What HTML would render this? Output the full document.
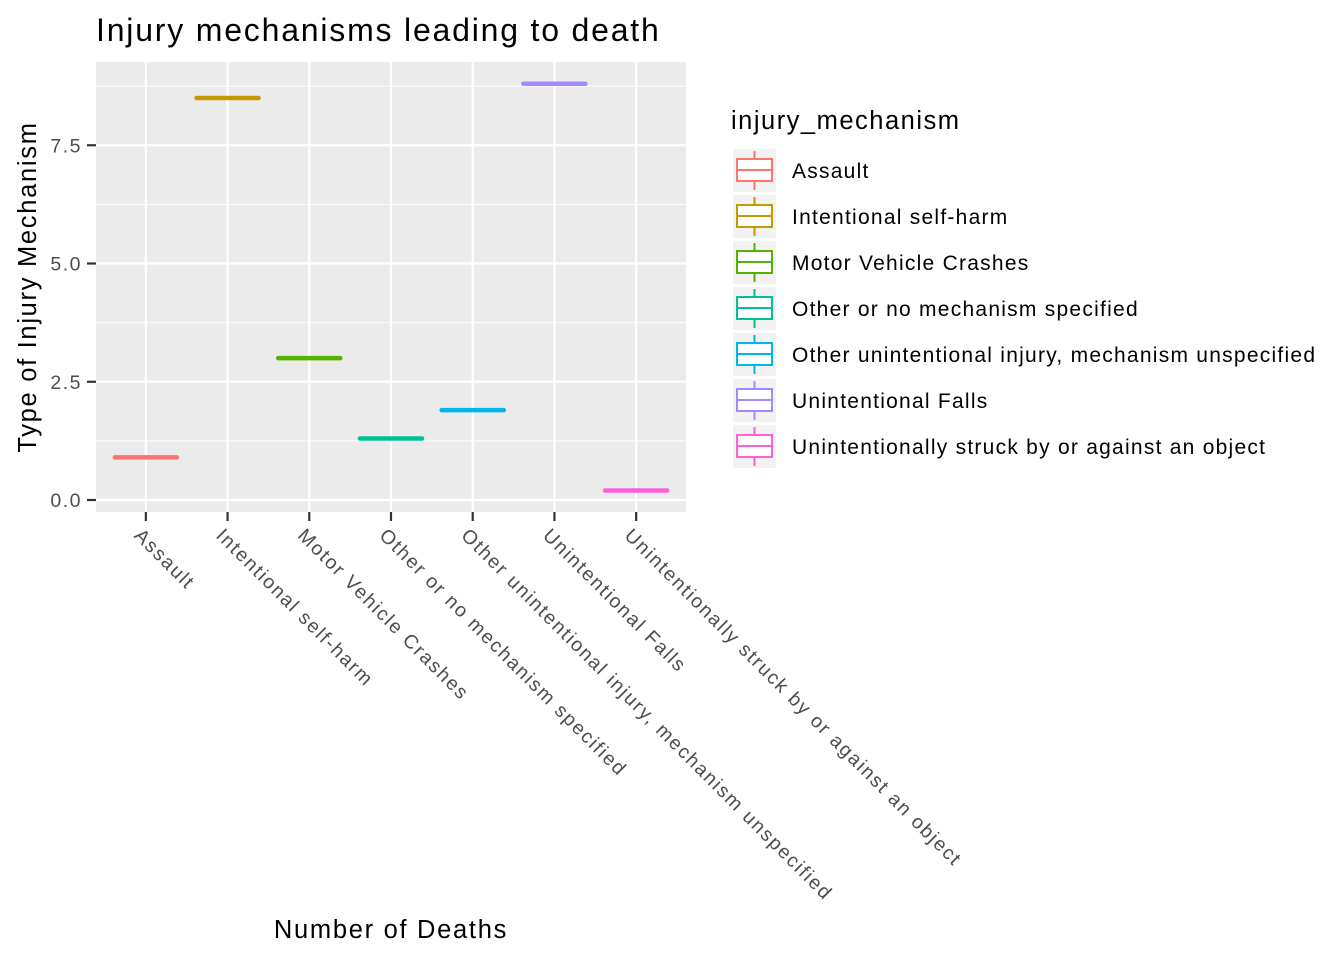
<!DOCTYPE html>
<html><head><meta charset="utf-8"><style>
html,body{margin:0;padding:0;background:#fff;}
svg{display:block;font-family:"Liberation Sans",Arial,sans-serif;}
</style></head><body>
<svg id="chart" width="1344" height="960" xmlns="http://www.w3.org/2000/svg">
<text x="96" y="41" font-size="32" letter-spacing="1.8" fill="#000">Injury mechanisms leading to death</text>
<rect x="96" y="62" width="590" height="450" fill="#ebebeb"/>
<g id="grid"></g>
<g id="marks"></g>
<g id="axes"></g>
<text x="391" y="938" font-size="25.5" letter-spacing="1.7" text-anchor="middle" fill="#000">Number of Deaths</text>
<text transform="translate(36,287) rotate(-90)" font-size="25.5" letter-spacing="1.7" text-anchor="middle" fill="#000">Type of Injury Mechanism</text>
<text x="731" y="129" font-size="25.5" letter-spacing="1.5" fill="#000">injury_mechanism</text>
<g id="legend"></g>
</svg>
<script>
const categories = ["Assault","Intentional self-harm","Motor Vehicle Crashes","Other or no mechanism specified","Other unintentional injury, mechanism unspecified","Unintentional Falls","Unintentionally struck by or against an object"];
const values = [0.9, 8.5, 3.0, 1.3, 1.9, 8.8, 0.2];
const colors = ["#F8766D","#C49A00","#53B400","#00C094","#00B6EB","#A58AFF","#FB61D7"];
const yTicks = [0, 2.5, 5, 7.5];
const yTickLabels = ["0.0","2.5","5.0","7.5"];
const yMinor = [1.25, 3.75, 6.25, 8.75];

const NS = "http://www.w3.org/2000/svg";
const px0 = 96, px1 = 686, py0 = 62, py1 = 512;
function y(v){ return 500 - v * 47.3; }
function x(i){ return px0 + (px1 - px0) * (i + 0.5 + 0.11) / (categories.length + 0.22) ; }
function mk(tag, attrs, parent){
  const e = document.createElementNS(NS, tag);
  for (const k in attrs) e.setAttribute(k, attrs[k]);
  document.getElementById(parent).appendChild(e);
  return e;
}
yMinor.forEach(v=>{
  const l = mk('line',{x1:px0,x2:px1,y1:y(v),y2:y(v),stroke:'#fff','stroke-width':1.1},'grid');
  
  
});
yTicks.forEach((v,i)=>{
  const l = mk('line',{x1:px0,x2:px1,y1:y(v),y2:y(v),stroke:'#fff','stroke-width':2.2},'grid');
  
  
  const t = mk('line',{x1:87,x2:96,y1:y(v),y2:y(v),stroke:'#333','stroke-width':2.2},'axes');
  
  
  const tx = mk('text',{x:82,y:y(v)+7,'font-size':19.5,'letter-spacing':1.5,'text-anchor':'end',fill:'#4d4d4d'},'axes');
  tx.textContent = yTickLabels[i];
  
  
});
categories.forEach((c,i)=>{
  const cx = x(i);
  const g = mk('line',{x1:cx,x2:cx,y1:py0,y2:py1,stroke:'#fff','stroke-width':2.2},'grid');
  
  
  const t = mk('line',{x1:cx,x2:cx,y1:py1,y2:py1+9,stroke:'#333','stroke-width':2.2},'axes');
  
  
  const tx = mk('text',{transform:`translate(${cx-3},${527}) rotate(45)`,'font-size':19.5,'letter-spacing':1.75,fill:'#4d4d4d','dominant-baseline':'hanging'},'axes');
  tx.textContent = c;
  
  
  const m = mk('line',{x1:cx-31,x2:cx+31,y1:y(values[i]),y2:y(values[i]),stroke:colors[i],'stroke-width':4.5,'stroke-linecap':'round'},'marks');
  
  
  const ly = 149 + i*46;
  const bg = mk('rect',{x:733,y:ly,width:43,height:43,fill:'#f2f2f2'},'legend');
  
  
  mk('line',{x1:754.5,x2:754.5,y1:ly+2,y2:ly+41,stroke:colors[i],'stroke-width':2},'legend');
  mk('rect',{x:737,y:ly+10,width:35,height:22,fill:'#fff',stroke:colors[i],'stroke-width':2},'legend');
  mk('line',{x1:737,x2:772,y1:ly+21,y2:ly+21,stroke:colors[i],'stroke-width':2},'legend');
  const lt = mk('text',{x:792,y:ly+29,'font-size':21,'letter-spacing':1.25,fill:'#000'},'legend');
  lt.textContent = c;
  
  
});
</script>
</body></html>
